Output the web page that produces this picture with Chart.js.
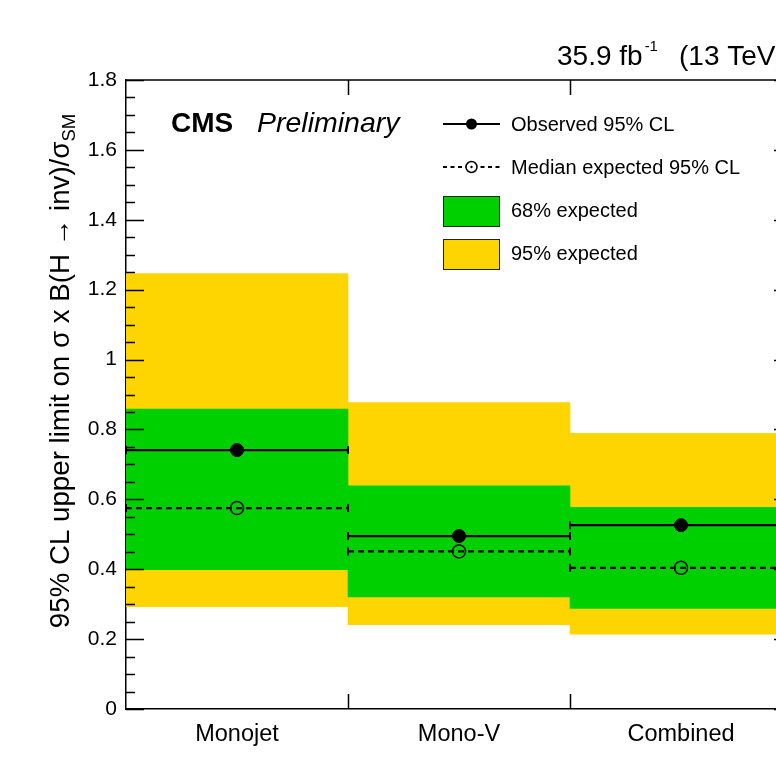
<!DOCTYPE html>
<html>
<head>
<meta charset="utf-8">
<script src="https://cdn.jsdelivr.net/npm/chart.js@4/dist/chart.umd.min.js"></script>
<style>
  html, body { margin: 0; padding: 0; overflow: hidden; background: #fff; }
  #wrap { width: 840px; height: 773px; }
</style>
</head>
<body>
<div id="wrap"><canvas id="c" width="840" height="773"></canvas></div>
<script>
// Upper limits on sigma x B(H -> inv) / sigma_SM per analysis category
const categories = ['Monojet', 'Mono-V', 'Combined'];
const observedLimit = [0.741, 0.495, 0.526];
const expectedLimit = [0.575, 0.451, 0.404];
const band68Low = [0.399, 0.321, 0.288];
const band68High = [0.858, 0.639, 0.577];
const band95Low = [0.293, 0.241, 0.214];
const band95High = [1.246, 0.877, 0.789];
const yMin = 0, yMax = 1.8, yStep = 0.2, yMinorStep = 0.05;

const FONT = '"Liberation Sans", Arial, Helvetica, sans-serif';
const GREEN = 'rgb(0,208,0)';
const YELLOW = 'rgb(255,213,0)';

// category i occupies x in [i, i+1]; its centre is i + 0.5
const bandData = (lo, hi) => categories.map((_, i) => ({ x: i + 0.5, y: [lo[i], hi[i]] }));
const stepData = vals => {
  const pts = [];
  vals.forEach((v, i) => { pts.push({ x: i, y: v }, { x: i + 1, y: v }, { x: i + 1, y: null }); });
  return pts;
};
const centreData = vals => vals.map((v, i) => ({ x: i + 0.5, y: v }));

// axis frame with inward ticks (ROOT style)
const frameTicks = {
  id: 'frameTicks',
  afterDraw(chart) {
    const { ctx, chartArea: a, scales: { x, y } } = chart;
    ctx.save();
    ctx.strokeStyle = '#000';
    ctx.lineWidth = 1.5;
    ctx.beginPath();
    ctx.moveTo(a.left, a.top); ctx.lineTo(a.right, a.top); ctx.lineTo(a.right, a.bottom);
    const n = Math.round((yMax - yMin) / yMinorStep);
    const per = Math.round(yStep / yMinorStep);
    for (let k = 0; k <= n; k++) {
      const py = Math.round(y.getPixelForValue(yMin + k * yMinorStep)) + 0.5;
      const len = (k % per === 0) ? 18 : 9;
      ctx.moveTo(a.left, py); ctx.lineTo(a.left + len, py);
      ctx.moveTo(a.right, py); ctx.lineTo(a.right - len, py);
    }
    for (let i = 1; i < categories.length; i++) {
      const px = Math.round(x.getPixelForValue(i)) + 0.5;
      ctx.moveTo(px, a.bottom); ctx.lineTo(px, a.bottom - 15);
      ctx.moveTo(px, a.top); ctx.lineTo(px, a.top + 15);
    }
    ctx.stroke();
    ctx.restore();
  }
};

// title, CMS label, legend and y-axis title
const annotations = {
  id: 'annotations',
  afterDraw(chart) {
    const { ctx } = chart;
    ctx.save();
    ctx.fillStyle = '#000';
    ctx.textBaseline = 'alphabetic';
    ctx.textAlign = 'left';

    // luminosity / energy
    const ty = 65;
    let tx = 557;
    ctx.font = `28px ${FONT}`;
    ctx.fillText('35.9 fb', tx, ty);
    tx += ctx.measureText('35.9 fb').width + 2;
    ctx.font = `15px ${FONT}`;
    ctx.fillText('-1', tx, ty - 14);
    ctx.font = `28px ${FONT}`;
    ctx.fillText('(13 TeV)', 679, ty);

    // experiment label
    ctx.font = `bold 28px ${FONT}`;
    ctx.fillText('CMS', 171, 132);
    ctx.font = `italic 28.5px ${FONT}`;
    ctx.fillText('Preliminary', 257, 132);

    // legend
    const lx0 = 443, lx1 = 500, lxc = 471.5, textX = 511;
    ctx.font = `20px ${FONT}`;
    ctx.textBaseline = 'middle';
    // observed
    ctx.strokeStyle = '#000';
    ctx.lineWidth = 2;
    ctx.beginPath(); ctx.moveTo(lx0, 124); ctx.lineTo(lx1, 124); ctx.stroke();
    ctx.beginPath(); ctx.arc(lxc, 124, 5.5, 0, Math.PI * 2); ctx.fill();
    ctx.fillText('Observed 95% CL', textX, 125);
    // expected
    ctx.setLineDash([4, 3.5]);
    ctx.beginPath(); ctx.moveTo(lx0, 167); ctx.lineTo(lx1, 167); ctx.stroke();
    ctx.setLineDash([]);
    ctx.lineWidth = 1.5;
    ctx.fillStyle = '#fff';
    ctx.beginPath(); ctx.arc(lxc, 167, 5.5, 0, Math.PI * 2); ctx.fill(); ctx.stroke();
    ctx.fillStyle = '#000';
    ctx.beginPath(); ctx.arc(lxc, 167, 1.2, 0, Math.PI * 2); ctx.fill();
    ctx.fillText('Median expected 95% CL', textX, 168);
    // bands
    ctx.lineWidth = 1;
    ctx.strokeStyle = '#222';
    ctx.fillStyle = GREEN;
    ctx.fillRect(lx0, 196, lx1 - lx0, 30);
    ctx.strokeRect(lx0 + 0.5, 196.5, lx1 - lx0 - 1, 30);
    ctx.fillStyle = YELLOW;
    ctx.fillRect(lx0, 239, lx1 - lx0, 30);
    ctx.strokeRect(lx0 + 0.5, 239.5, lx1 - lx0 - 1, 30);
    ctx.fillStyle = '#000';
    ctx.fillText('68% expected', textX, 211);
    ctx.fillText('95% expected', textX, 254);

    // y-axis title with subscript
    const main = '95% CL upper limit on \u03c3 x B(H \u2192 inv)/\u03c3';
    const sub = 'SM';
    ctx.font = `27.7px ${FONT}`;
    const wMain = ctx.measureText(main).width;
    ctx.font = `18.5px ${FONT}`;
    const wSub = ctx.measureText(sub).width;
    ctx.translate(69, 371);
    ctx.rotate(-Math.PI / 2);
    ctx.textBaseline = 'alphabetic';
    const start = -(wMain + wSub) / 2;
    ctx.font = `27.7px ${FONT}`;
    ctx.fillText(main, start, 0);
    ctx.font = `18.5px ${FONT}`;
    ctx.fillText(sub, start + wMain, 6);
    ctx.restore();
  }
};

new Chart(document.getElementById('c'), {
  type: 'bar',
  data: {
    datasets: [
      {
        label: '95% expected', data: bandData(band95Low, band95High),
        backgroundColor: YELLOW, borderWidth: 0, order: 6,
        barPercentage: 1, categoryPercentage: 1, grouped: false
      },
      {
        label: '68% expected', data: bandData(band68Low, band68High),
        backgroundColor: GREEN, borderWidth: 0, order: 5,
        barPercentage: 1, categoryPercentage: 1, grouped: false
      },
      {
        type: 'line', label: 'Median expected 95% CL', data: stepData(expectedLimit),
        borderColor: '#000', borderWidth: 2.2, borderDash: [6, 4], spanGaps: false,
        pointStyle: 'line', rotation: 90, pointRadius: 4, pointBorderWidth: 2,
        pointBorderColor: '#000', order: 4
      },
      {
        type: 'line', label: 'Observed 95% CL', data: stepData(observedLimit),
        borderColor: '#000', borderWidth: 2.2, spanGaps: false,
        pointStyle: 'line', rotation: 90, pointRadius: 4, pointBorderWidth: 2,
        pointBorderColor: '#000', order: 3
      },
      {
        type: 'line', label: 'expected marker', data: centreData(expectedLimit),
        showLine: false, pointStyle: 'circle', pointRadius: 6.5,
        pointBackgroundColor: 'rgba(0,0,0,0)', pointBorderColor: '#000', pointBorderWidth: 1.5, order: 2
      },
      {
        type: 'line', label: 'observed marker', data: centreData(observedLimit),
        showLine: false, pointStyle: 'circle', pointRadius: 6.5,
        pointBackgroundColor: '#000', pointBorderColor: '#000', pointBorderWidth: 1, order: 1
      }
    ]
  },
  options: {
    responsive: false,
    animation: false,
    devicePixelRatio: 1,
    layout: { padding: { left: 0, top: 80, right: 48, bottom: 0 } },
    plugins: { legend: { display: false }, tooltip: { enabled: false }, title: { display: false } },
    scales: {
      x: {
        type: 'linear', min: 0, max: categories.length, position: 'bottom', z: 1,
        offset: false,
        grid: { display: false, drawTicks: false, offset: false },
        border: { display: true, color: '#000', width: 1.5 },
        afterBuildTicks: s => { s.ticks = categories.map((_, i) => ({ value: i + 0.5 })); },
        afterFit: s => { s.height = 64; },
        ticks: {
          autoSkip: false, maxRotation: 0, padding: 11, color: '#000',
          font: { family: FONT, size: 23.5 },
          callback: v => categories[Math.floor(v)]
        }
      },
      y: {
        type: 'linear', min: yMin, max: yMax, z: 1,
        grid: { display: false, drawTicks: false },
        border: { display: true, color: '#000', width: 1.5 },
        afterFit: s => { s.width = 126; },
        ticks: {
          stepSize: yStep, padding: 9, color: '#000',
          font: { family: FONT, size: 21 },
          callback: v => String(Number(v.toFixed(1)))
        }
      }
    }
  },
  plugins: [frameTicks, annotations]
});
</script>
</body>
</html>
